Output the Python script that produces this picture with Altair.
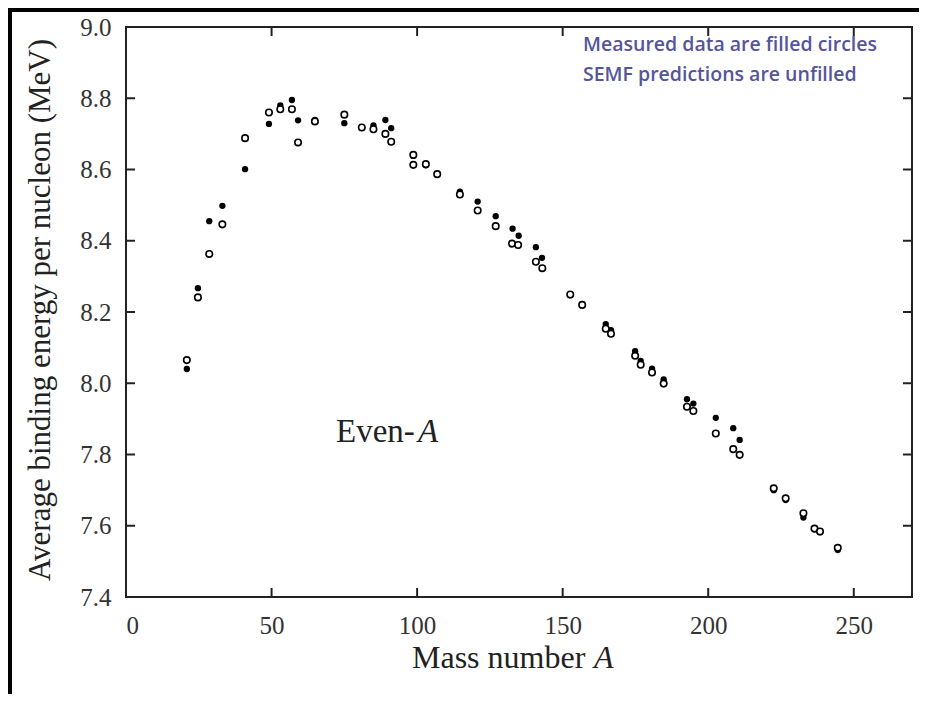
import altair as alt
import pandas as pd

# Measured binding energies (filled circles)
meas_A = [20.9, 24.7, 28.6, 33.1, 40.9, 49.1, 53.0, 57.0, 59.1, 64.9, 75.0, 85.0,
          89.1, 91.1, 98.7, 103.0,
          114.7, 120.8, 127.0, 132.8, 134.9, 140.8, 142.9, 152.6, 156.7,
          164.8, 166.6, 174.9, 176.8, 180.7, 184.7, 192.7, 194.9, 202.6,
          208.6, 210.8, 222.5, 226.6, 232.7, 236.5, 238.4, 244.5]
meas_B = [8.040, 8.267, 8.455, 8.498, 8.601, 8.728, 8.780, 8.795, 8.738, 8.739,
          8.730, 8.724, 8.739, 8.716, 8.638, 8.612,
          8.538, 8.510, 8.469, 8.434, 8.414, 8.382, 8.352, 8.247, 8.222,
          8.166, 8.149, 8.090, 8.063, 8.041, 8.011, 7.955, 7.943, 7.903,
          7.874, 7.841, 7.700, 7.672, 7.623, 7.590, 7.582, 7.532]

# SEMF predictions (unfilled circles)
semf_A = [20.9, 24.7, 28.6, 33.1, 40.9, 49.1, 53.0, 57.0, 59.1, 64.9, 75.0, 81.0,
          85.0, 89.1, 91.1, 98.7, 98.7,
          103.0, 106.9, 114.7, 120.8, 127.0, 132.6, 134.7, 140.8, 143.0,
          152.6, 156.7, 164.8, 166.6, 174.9, 176.8, 180.7, 184.7, 192.7,
          194.9, 202.6, 208.6, 210.8, 222.5, 226.6, 232.7, 236.5, 238.4, 244.5]
semf_B = [8.065, 8.241, 8.363, 8.446, 8.688, 8.760, 8.769, 8.769, 8.676, 8.735,
          8.754, 8.718, 8.713, 8.700, 8.678, 8.641, 8.613,
          8.615, 8.587, 8.530, 8.485, 8.441, 8.392, 8.388, 8.341, 8.323,
          8.249, 8.220, 8.153, 8.139, 8.077, 8.052, 8.030, 7.999, 7.934,
          7.922, 7.859, 7.815, 7.799, 7.705, 7.677, 7.635, 7.592, 7.584, 7.538]

x_labels = [0, 50, 100, 150, 200, 250]
y_labels = [7.4, 7.6, 7.8, 8.0, 8.2, 8.4, 8.6, 8.8, 9.0]
x_inner_ticks = [50, 100, 150, 200, 250]
y_inner_ticks = [7.6, 7.8, 8.0, 8.2, 8.4, 8.6, 8.8]

W, H = 786, 570
xs = alt.Scale(domain=[0, 270], nice=False, zero=False)
ys = alt.Scale(domain=[7.4, 9.0], nice=False, zero=False)

SERIF = "Liberation Serif"
x_axis = alt.Axis(values=x_labels, title=None, ticks=False, domain=False, grid=False,
                  labelFont=SERIF, labelFontSize=25, labelColor="#333",
                  labelPadding=16)
y_axis = alt.Axis(values=y_labels, format=".1f", title=None, ticks=False, domain=False,
                  grid=False, labelFont=SERIF, labelFontSize=25, labelColor="#333",
                  labelPadding=15)

def X(field="A"):
    return alt.X(f"{field}:Q", scale=xs, axis=x_axis)

def Y(field="B"):
    return alt.Y(f"{field}:Q", scale=ys, axis=y_axis)

meas_df = pd.DataFrame({"A": meas_A, "B": meas_B})
semf_df = pd.DataFrame({"A": semf_A, "B": semf_B})
xt_df = pd.DataFrame({"A": x_inner_ticks})
yt_df = pd.DataFrame({"B": y_inner_ticks})
one = pd.DataFrame({"k": [0]})

filled = alt.Chart(meas_df).mark_circle(size=40, color="black", opacity=1).encode(
    x=X(), y=Y())
unfilled = alt.Chart(semf_df).mark_point(
    shape="circle", filled=True, fill="white", stroke="black", strokeWidth=1.6,
    size=42, opacity=1, fillOpacity=1).encode(x=X(), y=Y())

tick_style = dict(color="#222", strokeWidth=2)
bottom_ticks = alt.Chart(xt_df).mark_rule(**tick_style).encode(
    x=X(), y=alt.value(H - 9), y2=alt.value(H))
top_ticks = alt.Chart(xt_df).mark_rule(**tick_style).encode(
    x=X(), y=alt.value(0), y2=alt.value(9))
left_ticks = alt.Chart(yt_df).mark_rule(**tick_style).encode(
    y=Y(), x=alt.value(0), x2=alt.value(9))
right_ticks = alt.Chart(yt_df).mark_rule(**tick_style).encode(
    y=Y(), x=alt.value(W - 9), x2=alt.value(W))

def text(t, x, y, size=31, font=SERIF, style="normal", align="left",
         color="#222", angle=0, weight="normal"):
    kw = dict(text=t, font=font, fontSize=size, fontStyle=style, align=align,
              baseline="middle", color=color, fontWeight=weight)
    if angle:
        kw["angle"] = angle
    return alt.Chart(one).mark_text(**kw).encode(x=alt.value(x), y=alt.value(y))

y_title = text("Average binding energy per nucleon (MeV)", -85, 283, align="center",
               angle=270)
x_title1 = text("Mass number", 286, 631, size=32)
x_title2 = text("A", 468, 631, size=32, style="italic")
even1 = text("Even-", 210, 405, size=33)
even2 = text("A", 292, 405, size=33, style="italic")
note1 = text("Measured data are filled circles", 457, 18, size=19.5, font="Open Sans",
             color="#55559c", weight=600)
note2 = text("SEMF predictions are unfilled", 457, 48, size=19.5, font="Open Sans",
             color="#55559c", weight=600)

frame_left = alt.Chart(one).mark_rule(color="black", strokeWidth=4).encode(
    x=alt.value(-116), y=alt.value(-19), y2=alt.value(667))
frame_top = alt.Chart(one).mark_rule(color="black", strokeWidth=4).encode(
    y=alt.value(-17), x=alt.value(-118), x2=alt.value(793))

chart = alt.layer(
    filled, unfilled, bottom_ticks, top_ticks, left_ticks, right_ticks,
    y_title, x_title1, x_title2, even1, even2, note1, note2,
    frame_left, frame_top,
).properties(
    width=W, height=H,
    autosize=alt.AutoSizeParams(type="none"),
    padding={"left": 118, "top": 19, "right": 7, "bottom": 97},
    background="white",
).configure_view(stroke="#222", strokeWidth=2)

chart.save("out.html", embed_options={"renderer": "svg", "actions": False})
